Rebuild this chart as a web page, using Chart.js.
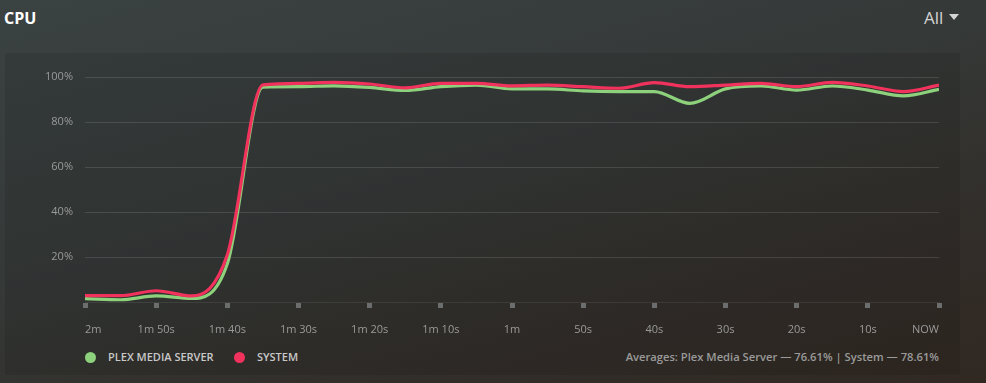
<!DOCTYPE html>
<html>
<head>
<meta charset="utf-8">
<script src="https://cdn.jsdelivr.net/npm/chart.js@4/dist/chart.umd.min.js"></script>
<style>
  html, body { margin: 0; padding: 0; }
  body {
    width: 986px; height: 383px; overflow: hidden; position: relative;
    font-family: 'Open Sans', sans-serif;
    background: linear-gradient(165deg, #3b4242 0%, #353a39 40%, #322e2a 75%, #312822 100%);
  }
  #title { position: absolute; left: 4px; top: 7px; font-size: 16px; font-weight: bold; color: #fff; }
  #range { position: absolute; left: 924px; top: 6px; font-size: 17px; color: #d4d4d4; }
  #range .caret {
    display: inline-block; width: 0; height: 0; margin-left: 6px; vertical-align: 4px;
    border-left: 5px solid transparent; border-right: 5px solid transparent; border-top: 6px solid #d4d4d4;
  }
  #panel {
    position: absolute; left: 5px; top: 53px; width: 955px; height: 322px;
    background: rgba(0, 0, 0, 0.09);
  }
  #chartBox { position: absolute; left: 0; top: 0; width: 955px; height: 290px; }
  .legend { position: absolute; top: 296px; font-size: 11px; font-weight: 600; color: #c8c8c8; }
  .legend span.dot { position: absolute; top: 3px; width: 11px; height: 11px; border-radius: 50%; }
  #averages {
    position: absolute; right: 21px; top: 296px; font-size: 11.2px; font-weight: 600; color: #9a9a9a;
    white-space: nowrap;
  }
</style>
</head>
<body>
<div id="title">CPU</div>
<div id="range">All<span class="caret"></span></div>
<div id="panel">
  <div id="chartBox"><canvas id="cpuChart"></canvas></div>
  <div class="legend" style="left:0"><span class="dot" style="left:80px;background:#8dd17c"></span><span style="position:absolute;left:103px;white-space:nowrap">PLEX MEDIA SERVER</span></div>
  <div class="legend" style="left:0"><span class="dot" style="left:229px;background:#f0325c"></span><span style="position:absolute;left:252px;white-space:nowrap">SYSTEM</span></div>
  <div id="averages">Averages: Plex Media Server — 76.61% | System — 78.61%</div>
</div>
<script>
  // seconds before now, one sample every 5s
  const seconds = [-120, -115, -110, -105, -100, -95, -90, -85, -80, -75, -70, -65, -60,
                   -55, -50, -45, -40, -35, -30, -25, -20, -15, -10, -5, 0];
  const plexValues = [1.5, 1.0, 2.7, 1.6, 17, 95.5, 95.7, 96.1, 95.4, 94.0, 95.7, 96.4, 94.7,
                      94.7, 93.8, 93.5, 93.5, 88.3, 94.7, 96.0, 94.2, 96.0, 94.2, 91.6, 94.5];
  const systemValues = [2.8, 2.8, 5.0, 2.7, 21, 96.5, 97.2, 97.6, 96.9, 95.2, 97.2, 97.2, 96.1,
                        96.4, 95.7, 95.0, 97.5, 95.7, 96.4, 97.2, 95.7, 97.6, 96.0, 93.5, 96.4];
  const xTickLabels = ['2m', '1m 50s', '1m 40s', '1m 30s', '1m 20s', '1m 10s', '1m',
                       '50s', '40s', '30s', '20s', '10s', 'NOW'];
  const yTickValues = [20, 40, 60, 80, 100];

  const PLEX_COLOR = '#8dd17c';
  const SYSTEM_COLOR = '#f0325c';

  const toPoints = vals => vals.map((v, i) => ({ x: seconds[i], y: v }));

  new Chart(document.getElementById('cpuChart').getContext('2d'), {
    type: 'line',
    data: {
      datasets: [
        // system first so it draws on top
        {
          label: 'System',
          data: toPoints(systemValues),
          borderColor: SYSTEM_COLOR,
          borderWidth: 3.2,
          pointRadius: 0,
          cubicInterpolationMode: 'monotone',
          fill: false
        },
        {
          label: 'Plex Media Server',
          data: toPoints(plexValues),
          borderColor: PLEX_COLOR,
          borderWidth: 3.2,
          pointRadius: 0,
          cubicInterpolationMode: 'monotone',
          fill: false
        }
      ]
    },
    options: {
      responsive: true,
      maintainAspectRatio: false,
      animation: false,
      layout: { padding: { top: 24, right: 21, bottom: 0, left: 0 } },
      plugins: { legend: { display: false }, tooltip: { enabled: false } },
      scales: {
        x: {
          type: 'linear',
          min: -120,
          max: 0,
          afterBuildTicks: scale => { scale.ticks = seconds.filter(s => s % 10 === 0).map(v => ({ value: v })); },
          afterFit: scale => { scale.height = 41; },
          border: { display: true, color: 'rgba(255,255,255,0.08)', width: 1 },
          grid: {
            drawOnChartArea: false,
            drawTicks: true,
            tickLength: 6,
            tickWidth: 5,
            tickColor: '#6b6e6c'
          },
          ticks: {
            align: 'inner',
            maxRotation: 0,
            autoSkip: false,
            padding: 15,
            color: '#9a9a9a',
            font: { family: 'Open Sans', size: 11 },
            callback: (v, i) => xTickLabels[i]
          }
        },
        y: {
          min: 0,
          max: 100,
          afterBuildTicks: scale => { scale.ticks = yTickValues.map(v => ({ value: v })); },
          afterFit: scale => { scale.width = 80; },
          border: { display: false },
          grid: { color: 'rgba(255,255,255,0.12)', lineWidth: 1, drawTicks: false },
          ticks: {
            padding: 12,
            color: '#9a9a9a',
            font: { family: 'Open Sans', size: 11 },
            callback: v => v + '%'
          }
        }
      }
    }
  });
</script>
</body>
</html>
